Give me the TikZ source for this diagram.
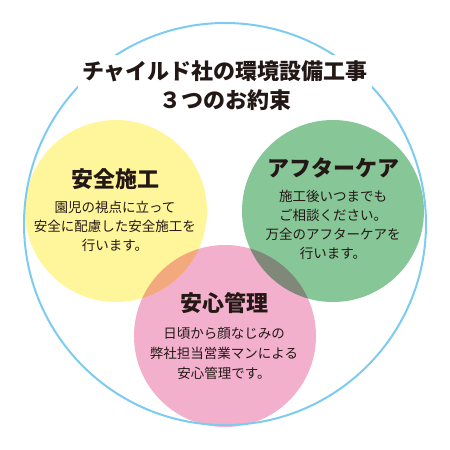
\documentclass[tikz,border=0pt]{standalone}
\usepackage{fontspec}
\usepackage{xcolor}
\usetikzlibrary{positioning}
\newfontfamily\jpfont{Noto Sans CJK JP}
\definecolor{ink}{RGB}{35,24,21}
\definecolor{ring}{RGB}{125,203,240}
\definecolor{safe}{RGB}{255,245,154}
\definecolor{after}{RGB}{134,198,151}
\definecolor{mind}{RGB}{242,176,205}

\begin{document}
\begin{tikzpicture}[
  x=1pt, y=-1pt,
  spot/.style={circle, inner sep=0pt, minimum size=182pt, blend mode=multiply},
  head/.style={font=\jpfont\bfseries\fontsize{22}{26}\selectfont, text=ink},
  body/.style={font=\jpfont\fontsize{13.5}{19}\selectfont, text=ink, align=center},
  title/.style={font=\jpfont\bfseries\fontsize{22}{29}\selectfont, text=ink,
                align=center, fill=white, inner xsep=4pt, inner ysep=6pt}
]
\useasboundingbox (0,0) rectangle (450,450);

% three promises
\node[spot, fill=safe]  (safec)  at (116,211) {};
\node[spot, fill=after] (afterc) at (333,211) {};
\node[spot, fill=mind]  (mindc)  at (225,336) {};

% outer ring, cut by the title
\node[circle, draw=ring, line width=2pt, minimum size=402pt, inner sep=0pt] (ring) at (225,224) {};
\node[title] (title) at (225,86) {チャイルド社の環境設備工事\\３つのお約束};

\node[head] (safeh)  at (115,179) {安全施工};
\node[head] (afterh) at (333,168) {アフターケア};
\node[head] (mindh)  at (224,303) {安心管理};

\node[body, below=5pt of safeh]  (safet)  {園児の視点に立って\\安全に配慮した安全施工を\\行います。};
\node[body, below=5pt of afterh] (aftert) {施工後いつまでも\\ご相談ください。\\万全のアフターケアを\\行います。};
\node[body, below=7pt of mindh, font=\jpfont\fontsize{13.5}{20}\selectfont] (mindt) {日頃から顔なじみの\\弊社担当営業マンによる\\安心管理です。};
\end{tikzpicture}
\end{document}
